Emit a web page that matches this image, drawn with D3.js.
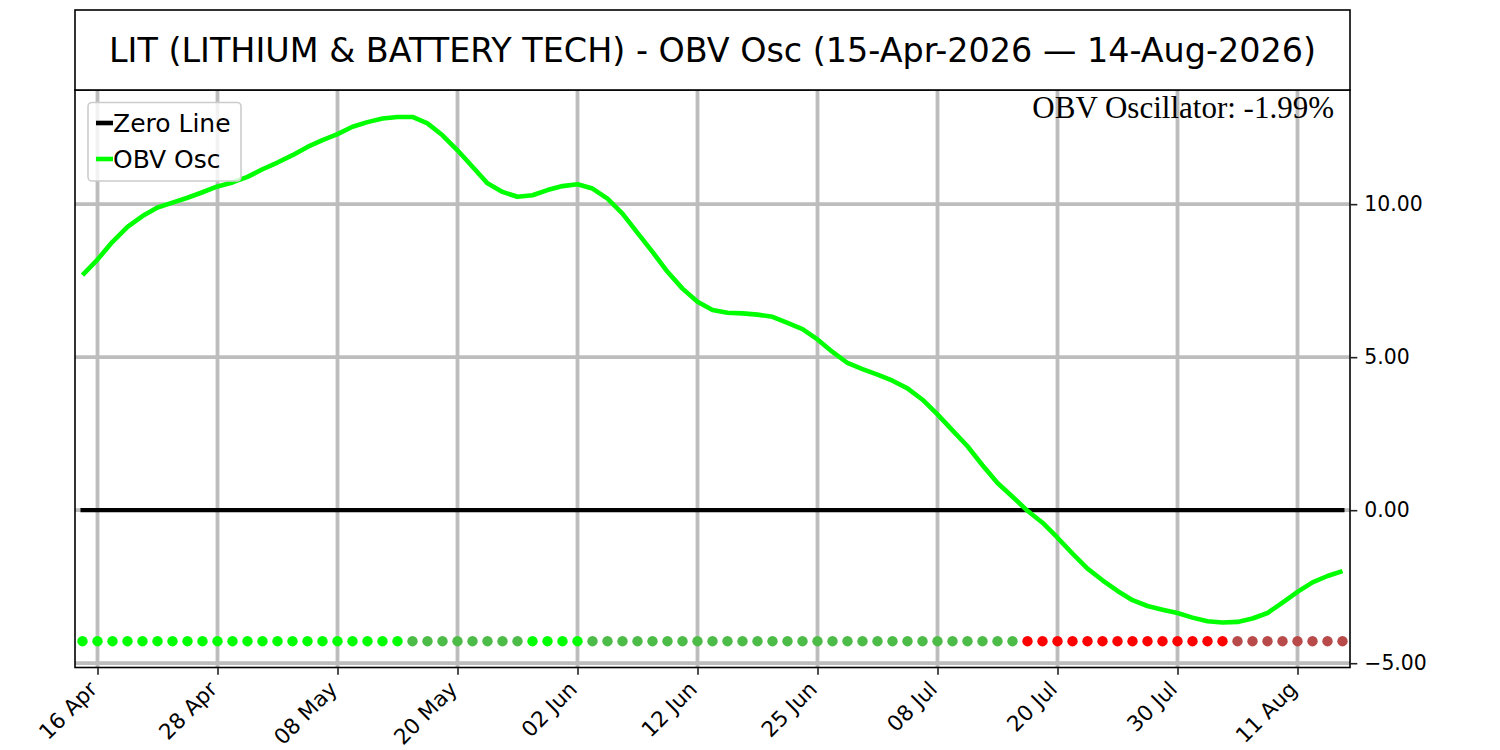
<!DOCTYPE html>
<html>
<head>
<meta charset="utf-8">
<script src="https://cdn.jsdelivr.net/npm/d3@7"></script>
<style>
  body { margin: 0; background: #fff; }
  svg text { font-family: "DejaVu Sans", sans-serif; }
</style>
</head>
<body>
<svg id="chart"></svg>
<script>
// trading days shown on the chart
const dates = [
  "2026-04-15","2026-04-16","2026-04-17","2026-04-20","2026-04-21","2026-04-22","2026-04-23","2026-04-24","2026-04-27","2026-04-28","2026-04-29","2026-04-30",
  "2026-05-01","2026-05-04","2026-05-05","2026-05-06","2026-05-07","2026-05-08","2026-05-11","2026-05-12","2026-05-13","2026-05-14","2026-05-15","2026-05-18",
  "2026-05-19","2026-05-20","2026-05-21","2026-05-22","2026-05-26","2026-05-27","2026-05-28","2026-05-29",
  "2026-06-01","2026-06-02","2026-06-03","2026-06-04","2026-06-05","2026-06-08","2026-06-09","2026-06-10","2026-06-11","2026-06-12","2026-06-15","2026-06-16",
  "2026-06-17","2026-06-18","2026-06-22","2026-06-23","2026-06-24","2026-06-25","2026-06-26","2026-06-29","2026-06-30",
  "2026-07-01","2026-07-02","2026-07-06","2026-07-07","2026-07-08","2026-07-09","2026-07-10","2026-07-13","2026-07-14","2026-07-15","2026-07-16","2026-07-17",
  "2026-07-20","2026-07-21","2026-07-22","2026-07-23","2026-07-24","2026-07-27","2026-07-28","2026-07-29","2026-07-30","2026-07-31",
  "2026-08-03","2026-08-04","2026-08-05","2026-08-06","2026-08-07","2026-08-10","2026-08-11","2026-08-12","2026-08-13","2026-08-14"
];

const obvOsc = [
  7.68, 8.19, 8.77, 9.26, 9.61, 9.89, 10.05, 10.21, 10.39, 10.58, 10.71, 10.89,
  11.14, 11.36, 11.60, 11.87, 12.09, 12.29, 12.53, 12.68, 12.80, 12.85, 12.85, 12.64,
  12.25, 11.76, 11.22, 10.68, 10.40, 10.24, 10.29, 10.46,
  10.59, 10.65, 10.51, 10.18, 9.69, 9.06, 8.44, 7.79, 7.24, 6.81, 6.54, 6.45,
  6.43, 6.39, 6.32, 6.12, 5.92, 5.58, 5.17, 4.81, 4.61,
  4.43, 4.23, 3.98, 3.61, 3.13, 2.61, 2.09, 1.47, 0.89, 0.44, -0.02, -0.41,
  -0.90, -1.42, -1.91, -2.29, -2.64, -2.94, -3.13, -3.25, -3.36, -3.51,
  -3.63, -3.67, -3.65, -3.54, -3.36, -3.02, -2.67, -2.36, -2.15, -1.99
];

// marker state per day: L up/positive, G down/positive, R down/negative, B up/negative
const signal = [
  "L","L","L","L","L","L","L","L","L","L","L","L",
  "L","L","L","L","L","L","L","L","L","L","G","G",
  "G","G","G","G","G","G","L","L",
  "L","L","G","G","G","G","G","G","G","G","G","G",
  "G","G","G","G","G","G","G","G","G",
  "G","G","G","G","G","G","G","G","G","G","R","R",
  "R","R","R","R","R","R","R","R","R","R",
  "R","R","B","B","B","B","B","B","B","B"
];
const signalColors = { L: "#00ff00", G: "#4cbb47", R: "#ff0000", B: "#b84a4a" };
const markerLevel = -4.28;

const tickLabels = ["16 Apr","28 Apr","08 May","20 May","02 Jun","12 Jun","25 Jun","08 Jul","20 Jul","30 Jul","11 Aug"];
const yTicks = [-5, 0, 5, 10];
const titleText = "LIT (LITHIUM & BATTERY TECH) - OBV Osc (15-Apr-2026 \u2014 14-Aug-2026)";
const lastLabel = "OBV Oscillator: -1.99%";

const width = 1500, height = 750;
const m = { left: 75, right: 1350, top: 90, bottom: 667.5 };

let svg = d3.select("#chart").attr("width", width).attr("height", height);

let parseDate = d3.timeParse("%Y-%m-%d");
let fmt = d3.timeFormat("%d %b");
let idx = dates.map((d, i) => i);
let tickIdx = idx.filter((i) => tickLabels.includes(fmt(parseDate(dates[i]))));

let x = d3.scaleLinear().domain([-0.5, dates.length - 0.5]).range([m.left, m.right]);
let y = d3.scaleLinear().domain([-5.14, 13.73]).range([m.bottom, m.top]);

let plot = svg.append("g");
plot.append("defs").append("clipPath").attr("id", "clip")
    .append("rect").attr("x", m.left).attr("y", m.top).attr("width", m.right - m.left).attr("height", m.bottom - m.top);

// grid
let grid = plot.append("g").attr("clip-path", "url(#clip)");
grid.selectAll(".vgrid")
    .data(tickIdx).enter()
    .append("line")
    .attr("x1", (d) => x(d)).attr("x2", (d) => x(d))
    .attr("y1", m.top).attr("y2", m.bottom)
    .attr("stroke", "#bdbdbd").attr("stroke-width", 3.8);
grid.selectAll(".hgrid")
    .data(yTicks).enter()
    .append("line")
    .attr("x1", m.left).attr("x2", m.right)
    .attr("y1", (d) => y(d)).attr("y2", (d) => y(d))
    .attr("stroke", "#bdbdbd").attr("stroke-width", 3.8);

// zero line
plot.append("line")
    .attr("x1", x(0) - 2).attr("x2", x(dates.length - 1) + 2)
    .attr("y1", y(0)).attr("y2", y(0))
    .attr("stroke", "#000").attr("stroke-width", 4.2);

// oscillator
let line = d3.line().x((d, i) => x(i)).y((d) => y(d));
plot.append("path")
    .datum(obvOsc)
    .attr("d", line)
    .attr("fill", "none")
    .attr("stroke", "#00ff00")
    .attr("stroke-width", 4.6)
    .attr("stroke-linejoin", "round");

// signal dots
plot.selectAll(".dot")
    .data(signal).enter()
    .append("circle")
    .attr("cx", (d, i) => x(i))
    .attr("cy", y(markerLevel))
    .attr("r", 5.2)
    .attr("fill", (d) => signalColors[d]);

// frame
svg.append("rect")
    .attr("x", m.left).attr("y", m.top).attr("width", m.right - m.left).attr("height", m.bottom - m.top)
    .attr("fill", "none").attr("stroke", "#000").attr("stroke-width", 1.6);

// x axis
let xAxis = d3.axisBottom(x).tickValues(tickIdx).tickSize(7.3).tickPadding(7).tickFormat("");
let gx = svg.append("g").attr("transform", `translate(0,${m.bottom})`).call(xAxis);
gx.select(".domain").remove();
gx.selectAll(".tick line").attr("stroke", "#222").attr("stroke-width", 1.6);
svg.selectAll(".xlab")
    .data(tickIdx).enter()
    .append("text")
    .attr("class", "xlab")
    .attr("transform", (d) => `translate(${x(d) + 1},${m.bottom + 23}) rotate(-45)`)
    .attr("text-anchor", "end")
    .attr("font-size", 21.5)
    .attr("fill", "#000")
    .text((d) => fmt(parseDate(dates[d])));

// y axis on the right
let yAxis = d3.axisRight(y).tickValues(yTicks).tickSize(7.3).tickPadding(7).tickFormat(d3.format(".2f"));
let gy = svg.append("g").attr("transform", `translate(${m.right},0)`).call(yAxis);
gy.select(".domain").remove();
gy.selectAll(".tick line").attr("stroke", "#222").attr("stroke-width", 1.6);
gy.selectAll(".tick text")
    .attr("font-size", 20.4)
    .attr("font-family", "DejaVu Sans")
    .attr("fill", "#000");

// title box
svg.append("rect")
    .attr("x", m.left).attr("y", 10).attr("width", m.right - m.left).attr("height", m.top - 10)
    .attr("fill", "#fff").attr("stroke", "#000").attr("stroke-width", 1.6);
svg.append("text")
    .attr("x", (m.left + m.right) / 2).attr("y", 50)
    .attr("text-anchor", "middle")
    .attr("dominant-baseline", "central")
    .attr("font-size", 33.4)
    .text(titleText);

// last value
svg.append("text")
    .attr("x", 1334).attr("y", 118)
    .attr("text-anchor", "end")
    .attr("font-size", 31)
    .style("font-family", "'Liberation Serif', 'Times New Roman', serif")
    .text(lastLabel);

// legend
let legendItems = [
  { label: "Zero Line", color: "#000" },
  { label: "OBV Osc", color: "#00ff00" }
];
let legend = svg.append("g");
legend.append("rect")
    .attr("x", 88).attr("y", 102.5).attr("width", 153).attr("height", 78.5).attr("rx", 4)
    .attr("fill", "#fff").attr("fill-opacity", 0.8)
    .attr("stroke", "#cccccc").attr("stroke-width", 1.6);
let items = legend.selectAll(".item")
    .data(legendItems).enter()
    .append("g")
    .attr("transform", (d, i) => `translate(0,${123 + i * 36})`);
items.append("line")
    .attr("x1", 96).attr("x2", 113)
    .attr("stroke", (d) => d.color).attr("stroke-width", 4.6);
items.append("text")
    .attr("x", 113)
    .attr("dominant-baseline", "central")
    .attr("font-size", 25)
    .text((d) => d.label);
</script>
</body>
</html>
